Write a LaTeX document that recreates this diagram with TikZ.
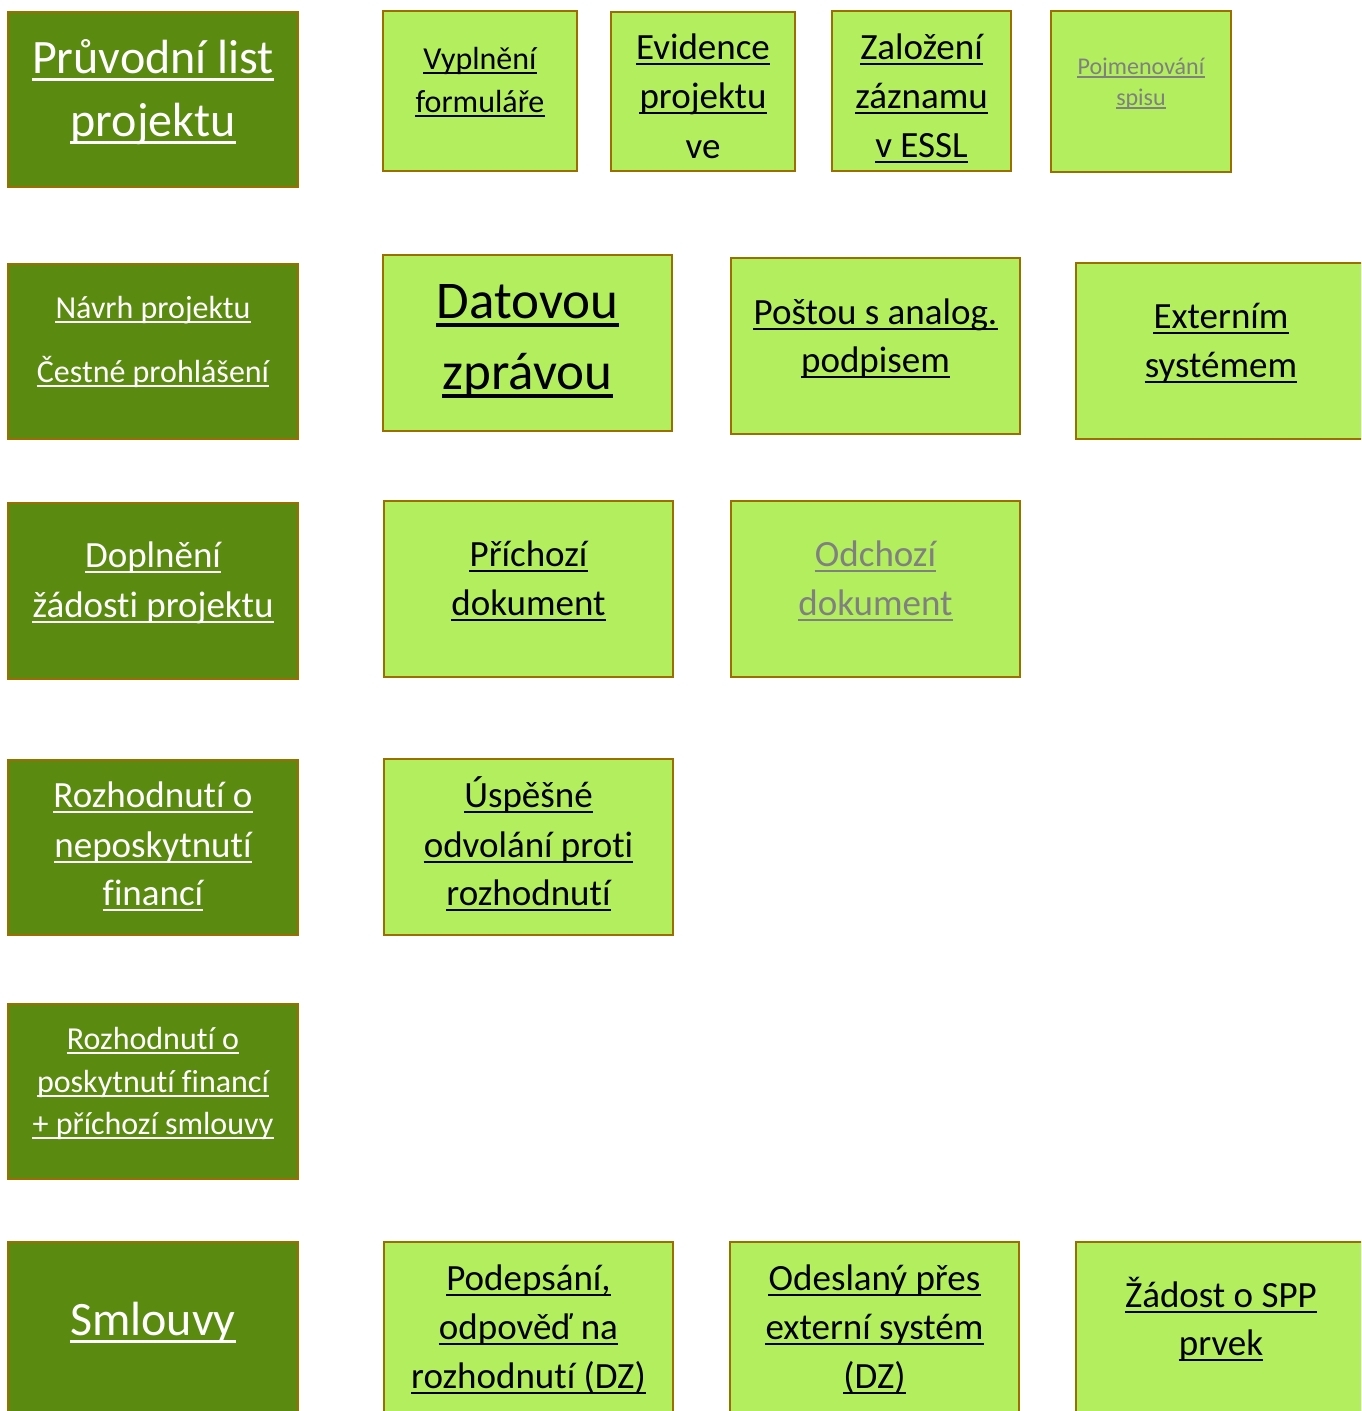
\documentclass[tikz,border=0pt]{standalone}
\usepackage{fontspec}
\setmainfont{Carlito}[Ligatures=NoCommon]
\definecolor{darkg}{HTML}{5A8B10}
\definecolor{lightg}{HTML}{B2EE5E}
\definecolor{edge}{HTML}{9C6E00}
\definecolor{greytxt}{HTML}{808080}
\tikzset{
  darkbox/.style={draw=edge, line width=2.4pt, fill=darkg, inner sep=0pt},
  lightbox/.style={draw=edge, line width=2.4pt, fill=lightg, inner sep=0pt},
  txt/.style={inner sep=0pt, anchor=base},
}
% name, x, baseline y, size, colour, text
\newcommand\tline[6]{%
  \node[txt, text=#5, font=\fontsize{#4}{#4}\selectfont] (#1) at (#2,#3) {#6};
  \draw[#5, line width={0.065*#4pt}] ([yshift={-0.13*#4pt}]#1.base west) -- ([yshift={-0.13*#4pt}]#1.base east);
}
\newcommand\tplain[6]{%
  \node[txt, text=#5, font=\fontsize{#4}{#4}\selectfont] (#1) at (#2,#3) {#6};
}
\begin{document}
\begin{tikzpicture}[x=1pt, y=-1pt]
\useasboundingbox (0,0) rectangle (1361,1411);
\clip (0,0) rectangle (1361,1411);
% dark boxes
\node[darkbox, minimum width=290pt, minimum height=175pt] (d1) at (153,99.5) {};
\node[darkbox, minimum width=290pt, minimum height=175pt] (d2) at (153,351.5) {};
\node[darkbox, minimum width=290pt, minimum height=176pt] (d3) at (153,591) {};
\node[darkbox, minimum width=290pt, minimum height=175pt] (d4) at (153,847.5) {};
\node[darkbox, minimum width=290pt, minimum height=175pt] (d5) at (153,1091.5) {};
\node[darkbox, minimum width=290pt, minimum height=176pt] (d6) at (153,1330) {};
% light boxes
\node[lightbox, minimum width=194pt, minimum height=160pt] (l1) at (480,91) {};
\node[lightbox, minimum width=184pt, minimum height=159pt] (l2) at (703,91.5) {};
\node[lightbox, minimum width=179pt, minimum height=160pt] (l3) at (921.5,91) {};
\node[lightbox, minimum width=180pt, minimum height=161pt] (l4) at (1141,91.5) {};
\node[lightbox, minimum width=289pt, minimum height=176pt] (l5) at (527.5,343) {};
\node[lightbox, minimum width=289pt, minimum height=176pt] (l6) at (875.5,346) {};
\node[lightbox, minimum width=290pt, minimum height=176pt] (l7) at (1221,351) {};
\node[lightbox, minimum width=289pt, minimum height=176pt] (l8) at (528.5,589) {};
\node[lightbox, minimum width=289pt, minimum height=176pt] (l9) at (875.5,589) {};
\node[lightbox, minimum width=289pt, minimum height=176pt] (l10) at (528.5,847) {};
\node[lightbox, minimum width=289pt, minimum height=176pt] (l11) at (528.5,1330) {};
\node[lightbox, minimum width=289pt, minimum height=176pt] (l12) at (874.5,1330) {};
\node[lightbox, minimum width=290pt, minimum height=176pt] (l13) at (1221,1330) {};
% texts dark column
\tline{d1a}{153}{73}{48}{white}{Průvodní list}
\tline{d1b}{153}{136}{48}{white}{projektu}
\tline{d2a}{153}{318}{32}{white}{Návrh projektu}
\tline{d2b}{153}{382}{32}{white}{Čestné prohlášení}
\tline{d3a}{153}{567}{37}{white}{Doplnění}
\tline{d3b}{153}{617}{37}{white}{žádosti projektu}
\tline{d4a}{153}{807}{37}{white}{Rozhodnutí o}
\tline{d4b}{153}{857}{37}{white}{neposkytnutí}
\tline{d4c}{153}{905}{37}{white}{financí}
\tline{d5a}{153}{1049}{32}{white}{Rozhodnutí o}
\tline{d5b}{153}{1092}{32}{white}{poskytnutí financí}
\tline{d5c}{153}{1134}{32}{white}{+ příchozí smlouvy}
\tline{d6a}{153}{1335}{48}{white}{Smlouvy}
% top row
\tline{l1a}{480}{69}{32}{black}{Vyplnění}
\tline{l1b}{480}{112}{32}{black}{formuláře}
\tline{l2a}{703}{59}{37}{black}{Evidence}
\tline{l2b}{703}{108}{37}{black}{projektu}
\tplain{l2c}{703}{158}{37}{black}{ve}
\tline{l3a}{921.5}{59}{37}{black}{Založení}
\tline{l3b}{921.5}{108}{37}{black}{záznamu}
\tline{l3c}{921.5}{157}{37}{black}{v ESSL}
\tline{l4a}{1141}{74}{24}{greytxt}{Pojmenování}
\tline{l4b}{1141}{105}{24}{greytxt}{spisu}
% row 2
\tline{l5a}{527.5}{318}{53}{black}{Datovou}
\tline{l5b}{527.5}{389}{53}{black}{zprávou}
\tline{l6a}{875.5}{324}{37}{black}{Poštou s analog.}
\tline{l6b}{875.5}{372}{37}{black}{podpisem}
\tline{l7a}{1221}{328}{37}{black}{Externím}
\tline{l7b}{1221}{377}{37}{black}{systémem}
% row 3
\tline{l8a}{528.5}{566}{37}{black}{Příchozí}
\tline{l8b}{528.5}{615}{37}{black}{dokument}
\tline{l9a}{875.5}{566}{37}{greytxt}{Odchozí}
\tline{l9b}{875.5}{615}{37}{greytxt}{dokument}
% row 4
\tline{l10a}{528.5}{807}{37}{black}{Úspěšné}
\tline{l10b}{528.5}{857}{37}{black}{odvolání proti}
\tline{l10c}{528.5}{905}{37}{black}{rozhodnutí}
% row 6
\tline{l11a}{528.5}{1290}{37}{black}{Podepsání,}
\tline{l11b}{528.5}{1339}{37}{black}{odpověď na}
\tline{l11c}{528.5}{1388}{37}{black}{rozhodnutí (DZ)}
\tline{l12a}{874.5}{1290}{37}{black}{Odeslaný přes}
\tline{l12b}{874.5}{1339}{37}{black}{externí systém}
\tline{l12c}{874.5}{1388}{37}{black}{(DZ)}
\tline{l13a}{1221}{1307}{37}{black}{Žádost o SPP}
\tline{l13b}{1221}{1355}{37}{black}{prvek}
\end{tikzpicture}
\end{document}
